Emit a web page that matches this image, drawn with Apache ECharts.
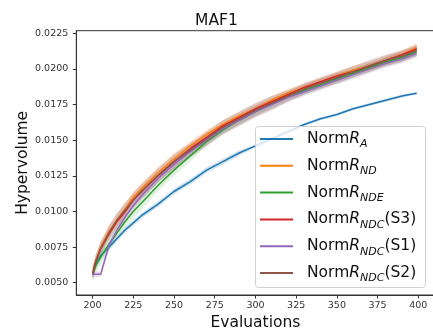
<!DOCTYPE html>
<html><head><meta charset="utf-8">
<script src="https://cdn.jsdelivr.net/npm/echarts@6/dist/echarts.min.js"></script>
<style>html,body{margin:0;padding:0;background:#fff}#c{width:433px;height:332px}</style>
</head><body><div id="c"></div>
<script>
const EVALS = [200,202,205,210,215,220,225,230,240,250,260,270,280,290,300,310,320,330,340,350,360,370,380,390,399];
const NORM_RA   = [0.0056,0.0063,0.0069,0.0075,0.0081,0.0087,0.0092,0.0097,0.0105,0.0114,0.0121,0.0129,0.0135,0.0141,0.0146,0.0151,0.0156,0.0161,0.0165,0.0168,0.0172,0.0175,0.0178,0.0181,0.0183];
const NORM_RND  = [0.0057,0.0066,0.0075,0.0086,0.0094,0.0102,0.0110,0.0116,0.0127,0.0137,0.0146,0.0154,0.0161,0.0167,0.0172,0.0178,0.0183,0.0187,0.0191,0.0195,0.0199,0.0202,0.0206,0.0210,0.0215];
const NORM_RNDE = [0.0056,0.0062,0.0068,0.0077,0.0085,0.0093,0.0100,0.0106,0.0118,0.0129,0.0139,0.0149,0.0157,0.0164,0.0170,0.0176,0.0181,0.0185,0.0189,0.0193,0.0197,0.0201,0.0205,0.0208,0.0212];
const NORM_S3   = [0.0056,0.0065,0.0074,0.0084,0.0093,0.0100,0.0108,0.0114,0.0125,0.0135,0.0144,0.0152,0.0160,0.0166,0.0172,0.0177,0.0182,0.0187,0.0191,0.0195,0.0198,0.0202,0.0206,0.0210,0.0214];
const NORM_S1   = [0.0056,0.0056,0.0056,0.0076,0.0087,0.0096,0.0104,0.0111,0.0123,0.0133,0.0142,0.0150,0.0158,0.0164,0.0170,0.0175,0.0180,0.0184,0.0188,0.0192,0.0196,0.0200,0.0204,0.0207,0.0211];
const NORM_S2   = [0.0056,0.0065,0.0074,0.0085,0.0094,0.0101,0.0108,0.0114,0.0125,0.0135,0.0143,0.0151,0.0159,0.0165,0.0171,0.0176,0.0181,0.0186,0.0190,0.0194,0.0198,0.0202,0.0206,0.0209,0.0213];
// half-widths of the shaded bands
const SPREAD_RA   = [0.0003,0.0003,0.0003,0.0002,0.0002,0.0002,0.0002,0.0002,0.0002,0.0002,0.0002,0.0002,0.0002,0.0002,0.0001,0.0001,0.0001,0.0001,0.0001,0.0001,0.0001,0.0001,0.0001,0.0001,0.0001];
const SPREAD_RND  = [0.0004,0.0004,0.0004,0.0004,0.0004,0.0004,0.0004,0.0004,0.0004,0.0004,0.0003,0.0003,0.0003,0.0003,0.0003,0.0003,0.0003,0.0003,0.0003,0.0003,0.0003,0.0003,0.0003,0.0003,0.0003];
const SPREAD_RNDE = [0.0005,0.0005,0.0005,0.0005,0.0005,0.0005,0.0005,0.0005,0.0004,0.0004,0.0004,0.0003,0.0003,0.0003,0.0003,0.0003,0.0003,0.0003,0.0003,0.0003,0.0003,0.0003,0.0003,0.0003,0.0003];
const SPREAD_S3   = [0.0002,0.0002,0.0002,0.0002,0.0002,0.0002,0.0002,0.0002,0.0002,0.0002,0.0002,0.0002,0.0002,0.0002,0.0002,0.0002,0.0002,0.0002,0.0002,0.0002,0.0002,0.0002,0.0002,0.0002,0.0002];
const SPREAD_S1   = [0.0002,0.0002,0.0002,0.0003,0.0003,0.0003,0.0003,0.0003,0.0003,0.0003,0.0003,0.0003,0.0003,0.0003,0.0003,0.0003,0.0003,0.0003,0.0003,0.0003,0.0003,0.0003,0.0003,0.0003,0.0003];
const SPREAD_S2   = [0.0005,0.0005,0.0005,0.0005,0.0005,0.0005,0.0005,0.0005,0.0005,0.0005,0.0005,0.0005,0.0005,0.0005,0.0005,0.0005,0.0004,0.0004,0.0004,0.0004,0.0004,0.0004,0.0004,0.0004,0.0004];
const X_TICKS = [200,225,250,275,300,325,350,375,400];
const Y_TICKS = [0.0050,0.0075,0.0100,0.0125,0.0150,0.0175,0.0200,0.0225];

const SERIES = [
  {name:'A',  vals:NORM_RA,   spread:SPREAD_RA,   color:'#1f77b4', band:0.2},
  {name:'ND', vals:NORM_RND,  spread:SPREAD_RND,  color:'#ff7f0e', band:0.2},
  {name:'NDE',vals:NORM_RNDE, spread:SPREAD_RNDE, color:'#2ca02c', band:0.15},
  {name:'NDC(S3)',vals:NORM_S3, spread:SPREAD_S3, color:'#d62728', band:0.2},
  {name:'NDC(S1)',vals:NORM_S1, spread:SPREAD_S1, color:'#9467bd', band:0.2},
  {name:'NDC(S2)',vals:NORM_S2, spread:SPREAD_S2, color:'#8c564b', band:0.28}
];
const F = 'DejaVu Sans';
function hexA(h,a){const r=parseInt(h.slice(1,3),16),g=parseInt(h.slice(3,5),16),b=parseInt(h.slice(5,7),16);return `rgba(${r},${g},${b},${a})`;}

const series = [];
// shaded bands: custom polygons through the axis scales
series.push({
  type:'custom', silent:true, z:1,
  data: SERIES.map((s,i)=>[EVALS[0], s.vals[0], i]),
  encode:{x:0, y:1},
  renderItem:function(params, api){
    const s = SERIES[api.value(2)];
    const upper = EVALS.map((x,k)=>api.coord([x, s.vals[k]+s.spread[k]]));
    const lower = EVALS.map((x,k)=>api.coord([x, s.vals[k]-s.spread[k]])).reverse();
    return {type:'polygon', shape:{points:upper.concat(lower)}, style:{fill:hexA(s.color,s.band)}};
  },
  clip:true
});
SERIES.forEach((s,i)=>{
  series.push({type:'line', name:s.name, data:EVALS.map((x,k)=>[x,s.vals[k]]), symbol:'none', showSymbol:false,
    lineStyle:{color:s.color, width:1.5}, itemStyle:{color:s.color}, z:3+i});
});

function legendFmt(name){
  const m = name.match(/^([A-Z]+)(.*)$/);
  return '{n|Norm}{r|R}{s|' + m[1] + '}' + (m[2] ? '{n|' + m[2] + '}' : '');
}

const chart = echarts.init(document.getElementById('c'), null, {renderer:'canvas'});
chart.setOption({
  animation:false,
  backgroundColor:'#fff',
  title:{text:'MAF1', left:'center', top:8, textStyle:{fontFamily:F, fontSize:15.5, fontWeight:'normal', color:'#111'}},
  grid:{left:76.3, top:30.7, width:358.3, height:264.3, show:true, borderColor:'#333', borderWidth:1, backgroundColor:'transparent',
    outerBoundsMode:'none', containLabel:false},
  graphic:[{type:'rect', z:20, silent:true, shape:{x:255.5, y:126.5, width:170, height:161, r:3},
    style:{fill:'rgba(255,255,255,0.8)', stroke:'#d0d0d0', lineWidth:1}}],
  xAxis:{type:'value', min:190, max:410, name:'Evaluations', nameLocation:'middle', nameGap:20, nameMoveOverlap:false,
    nameTextStyle:{fontFamily:F, fontSize:15.5, color:'#111'},
    axisLine:{show:true, onZero:false, lineStyle:{color:'#333', width:1}},
    axisTick:{show:true, length:3.5, lineStyle:{color:'#333'}, customValues:X_TICKS},
    axisLabel:{fontFamily:F, fontSize:9.5, color:'#333', margin:6, customValues:X_TICKS},
    splitLine:{show:false}},
  yAxis:{type:'value', min:0.00414, max:0.02268, name:'Hypervolume', nameLocation:'middle', nameGap:45, nameMoveOverlap:false,
    nameTextStyle:{fontFamily:F, fontSize:15.5, color:'#111'},
    axisLine:{show:true, onZero:false, lineStyle:{color:'#333', width:1}},
    axisTick:{show:true, length:3.5, lineStyle:{color:'#333'}, customValues:Y_TICKS},
    axisLabel:{fontFamily:F, fontSize:9.5, color:'#333', margin:8, customValues:Y_TICKS, formatter:v=>v.toFixed(4)},
    splitLine:{show:false}},
  legend:{z:30, orient:'vertical', left:255, top:126, icon:'rect', itemWidth:33, itemHeight:2, itemGap:7.8,
    padding:[5,0,5,5], backgroundColor:'transparent', borderWidth:0,
    data:SERIES.map(s=>s.name), formatter:legendFmt,
    textStyle:{fontFamily:F, color:'#111', padding:[0,0,0,9], rich:{
      n:{fontFamily:F, fontSize:15.5, lineHeight:22, color:'#111'},
      r:{fontFamily:F, fontSize:15.5, lineHeight:22, fontStyle:'italic', color:'#111'},
      s:{fontFamily:F, fontSize:11, lineHeight:12, fontStyle:'italic', verticalAlign:'bottom', color:'#111'}
    }}},
  series:series
});
</script></body></html>
